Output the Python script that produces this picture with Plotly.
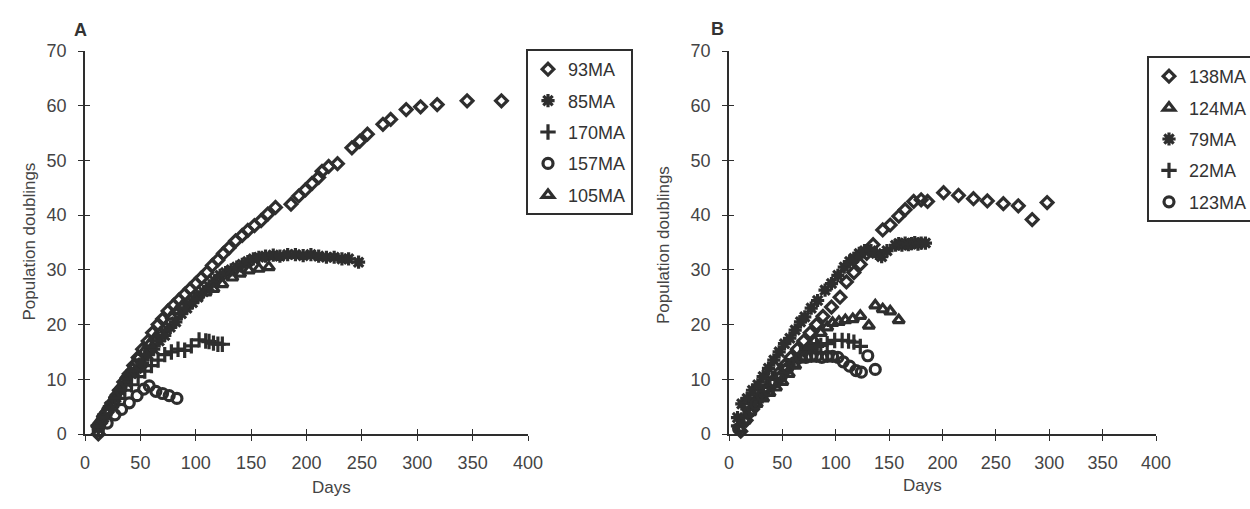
import plotly.graph_objects as go

# ---------------- Panel A data ----------------
a93_days = [12, 14, 20, 26, 31, 35, 40, 44, 48, 52, 57, 61, 66, 70, 75, 80, 85, 90, 95, 100, 105, 110, 115, 120,
            125, 130, 136, 142, 147, 153, 159, 165, 172, 186, 193, 199, 205, 211, 214, 220, 228, 241, 248, 255,
            269, 276, 290, 303, 318, 345, 376]
a93_vals = [0, 2, 4, 6, 8, 9.5, 11, 12.5, 14, 15.5, 17, 18.5, 20, 21, 22.5, 23.5, 24.5, 25.5, 26.5, 27.5, 28.5,
            29.5, 30.8, 31.8, 33, 34, 35.3, 36.3, 37.2, 38.1, 39, 40.2, 41.4, 42, 43.5, 44.6, 45.8, 46.9, 48, 48.9,
            49.4, 52.3, 53.5, 54.8, 56.6, 57.5, 59.3, 59.8, 60.2, 60.9, 60.9]

a85_days = [12, 17, 22, 27, 32, 37, 42, 47, 52, 57, 62, 67, 72, 77, 82, 87, 92, 97, 102, 107, 112, 117, 122, 127,
            132, 137, 142, 147, 152, 157, 163, 170, 176, 183, 190, 197, 204, 211, 218, 225, 232, 238, 247]
a85_vals = [1, 3, 5, 6.5, 8, 9.5, 11, 12, 13, 14.5, 15.5, 17, 18, 19.5, 20.5, 22, 23, 24, 25, 26, 27, 28, 29,
            29.5, 30, 30.5, 31, 31.5, 32, 32.3, 32.5, 32.7, 32.5, 32.8, 32.8, 32.6, 32.8, 32.5, 32.3, 32.3, 32,
            32, 31.4]

a170_days = [12, 18, 24, 30, 36, 42, 48, 54, 60, 66, 72, 78, 84, 90, 96, 103, 109, 112, 116, 120, 124]
a170_vals = [1.5, 3.5, 5, 6.5, 8, 9, 10.5, 11.5, 12.5, 13.5, 14.5, 15, 15.5, 15.3, 16.1, 17.2, 17, 16.9, 16.6,
             16.4, 16.4]

a157_days = [12, 20, 27, 33, 40, 47, 53, 58, 64, 70, 76, 83]
a157_vals = [0.5, 2, 3.5, 4.5, 5.7, 7, 8.2, 8.8, 7.8, 7.4, 7, 6.5]

a105_days = [11, 16, 21, 27, 32, 37, 43, 48, 53, 58, 63, 68, 73, 78, 83, 88, 95, 101, 109, 116, 124, 133, 140,
             148, 157, 166]
a105_vals = [1.8, 3.5, 5, 7, 8.5, 10.5, 12, 14, 15, 16.4, 17.5, 18.5, 19.5, 21.5, 22.5, 23.5, 24.5, 25, 25.9,
             26.5, 27.4, 28.6, 29.3, 29.9, 30.2, 30.5]

# ---------------- Panel B data ----------------
b138_days = [11, 16, 22, 28, 34, 40, 46, 52, 58, 64, 70, 76, 82, 88, 96, 104, 110, 117, 123, 129, 135, 144, 151,
             159, 165, 173, 180, 186, 201, 215, 229, 242, 257, 271, 284, 298]
b138_vals = [0.5, 2.5, 4.5, 6.5, 8, 9.5, 11, 12.5, 14, 15.5, 17, 18.5, 20, 21.5, 23.2, 25, 27.8, 29.5, 31, 33,
             34.6, 37.3, 38.2, 39.8, 41, 42.5, 42.8, 42.5, 44.1, 43.6, 43, 42.6, 42.1, 41.7, 39.2, 42.3]

b124_days = [10, 15, 20, 26, 32, 38, 44, 50, 56, 62, 68, 74, 80, 86, 92, 97, 103, 109, 116, 123, 131, 137, 144,
             151, 159]
b124_vals = [1, 2.5, 4, 5.5, 6.5, 7.5, 8.5, 9.5, 11, 12.5, 14, 15.5, 17, 18.5, 19.5, 20.3, 20.5, 20.8, 21, 21.6,
             19.8, 23.5, 22.8, 22.4, 20.8]

b79_days = [8, 12, 17, 22, 27, 32, 37, 42, 47, 52, 57, 62, 67, 71, 77, 83, 90, 96, 102, 108, 113, 117, 122, 127,
            133, 138, 143, 148, 156, 159, 162, 165, 168, 171, 174, 177, 180, 184]
b79_vals = [3, 5.5, 6.5, 8, 9, 10.5, 12, 13.5, 15, 16.5, 17.5, 19, 20.5, 21.4, 23, 24.4, 26.3, 27.5, 29, 30.5,
            31.5, 32.1, 33, 33.5, 33.5, 33, 32.4, 33.5, 34.5, 34.8, 34.5, 34.9, 34.6, 34.8, 35, 34.7, 34.9, 34.9]

b22_days = [9, 14, 19, 25, 31, 37, 43, 49, 55, 61, 67, 72, 77, 82, 86, 92, 99, 106, 112, 117, 123]
b22_vals = [1.5, 3, 4.5, 6, 7, 8.5, 10, 11, 12.5, 13.5, 14.5, 15, 15.6, 16, 16.2, 16.5, 17.1, 17.1, 17, 16.8, 16]

b123_days = [9, 14, 19, 25, 31, 37, 43, 49, 55, 61, 67, 72, 77, 82, 87, 92, 97, 102, 107, 113, 119, 124, 130, 137]
b123_vals = [1, 2.5, 4, 5.5, 7, 8, 9.5, 10.5, 12, 13, 14, 14, 14.2, 14.2, 14, 14.2, 14.2, 14, 13.2, 12.4, 11.6,
             11.3, 14.3, 11.8]

x_ticks = [0, 50, 100, 150, 200, 250, 300, 350, 400]
y_ticks = [0, 10, 20, 30, 40, 50, 60, 70]

INK = "#2e2e2e"
FONT = "Liberation Sans, Arial, Helvetica, sans-serif"

fig = go.Figure()


def add(days, vals, name, symbol, size, xa, ya, legend):
    fig.add_trace(go.Scatter(
        x=days, y=vals, mode="markers", name=name,
        xaxis=xa, yaxis=ya, legend=legend, legendgroup=name,
        cliponaxis=False,
        marker=dict(symbol=symbol, size=size, color=INK,
                    line=dict(color=INK, width=3.2)),
    ))


add(a93_days, a93_vals, "93MA", "diamond-open", 9, "x", "y", "legend")
add(a85_days, a85_vals, "85MA", "asterisk-open", 11, "x", "y", "legend")
add(a170_days, a170_vals, "170MA", "cross-thin-open", 11, "x", "y", "legend")
add(a157_days, a157_vals, "157MA", "circle-open", 10, "x", "y", "legend")
add(a105_days, a105_vals, "105MA", "triangle-up-open", 10, "x", "y", "legend")

add(b138_days, b138_vals, "138MA", "diamond-open", 9, "x2", "y2", "legend2")
add(b124_days, b124_vals, "124MA", "triangle-up-open", 10, "x2", "y2", "legend2")
add(b79_days, b79_vals, "79MA", "asterisk-open", 11, "x2", "y2", "legend2")
add(b22_days, b22_vals, "22MA", "cross-thin-open", 11, "x2", "y2", "legend2")
add(b123_days, b123_vals, "123MA", "circle-open", 10, "x2", "y2", "legend2")

# helper traces for inward tick marks (crossing ticks)
for xa, ya in (("x3", "y3"), ("x4", "y4")):
    fig.add_trace(go.Scatter(x=[None], y=[None], xaxis=xa, yaxis=ya, showlegend=False,
                             hoverinfo="skip"))

W, H = 1250, 509
ydom = [(H - 434) / H, (H - 51) / H]
xdomA = [85 / W, 528 / W]
xdomB = [729 / W, 1156 / W]

tickfont = dict(family=FONT, size=18, color="#444")
xbase = dict(range=[0, 400], tickvals=x_ticks, showgrid=False, zeroline=False,
             showline=True, linecolor=INK, linewidth=1.5, ticks="outside", ticklen=5,
             tickwidth=1, tickcolor=INK, tickfont=tickfont, ticklabelstandoff=7)
ybase = dict(range=[0, 70], tickvals=y_ticks, showgrid=False, zeroline=False,
             showline=True, linecolor=INK, linewidth=1.5, ticks="outside", ticklen=5,
             tickwidth=1, tickcolor=INK, tickfont=tickfont, ticklabelstandoff=8)
xin = dict(range=[0, 400], tickvals=x_ticks, showgrid=False, zeroline=False, showline=False,
           ticks="inside", ticklen=5, tickwidth=1, tickcolor=INK, showticklabels=False)
yin = dict(range=[0, 70], tickvals=y_ticks, showgrid=False, zeroline=False, showline=False,
           ticks="inside", ticklen=5, tickwidth=1, tickcolor=INK, showticklabels=False)

legbase = dict(font=dict(family=FONT, size=18, color="#333"), bgcolor="white",
               bordercolor=INK, borderwidth=2, tracegroupgap=5,
               xanchor="left", yanchor="top", itemsizing="trace")

fig.update_layout(
    width=W, height=H,
    margin=dict(l=0, r=0, t=0, b=0, autoexpand=False),
    paper_bgcolor="white", plot_bgcolor="white",
    font=dict(family=FONT, color="#333"),
    xaxis=dict(domain=xdomA, anchor="y", **xbase),
    yaxis=dict(domain=ydom, anchor="x", **ybase),
    xaxis2=dict(domain=xdomB, anchor="y2", **xbase),
    yaxis2=dict(domain=ydom, anchor="x2", **ybase),
    xaxis3=dict(overlaying="x", anchor="y", **xin),
    yaxis3=dict(overlaying="y", anchor="x", **yin),
    xaxis4=dict(overlaying="x2", anchor="y2", **xin),
    yaxis4=dict(overlaying="y2", anchor="x2", **yin),
    legend=dict(x=526 / W, y=1 - 49 / H, **legbase),
    legend2=dict(x=1147 / W, y=1 - 56 / H, **legbase),
    showlegend=True,
    annotations=[
        dict(text="<b>A</b>", x=72 / W, y=1 - 18 / H, xref="paper", yref="paper",
             showarrow=False, font=dict(family=FONT, size=18, color="#333")),
        dict(text="<b>B</b>", x=717 / W, y=1 - 17 / H, xref="paper", yref="paper",
             showarrow=False, font=dict(family=FONT, size=18, color="#333")),
        dict(text="Population doublings", x=18 / W, y=1 - 242 / H, xref="paper", yref="paper",
             textangle=-90, showarrow=False, font=dict(family=FONT, size=17, color="#444")),
        dict(text="Population doublings", x=663 / W, y=1 - 245 / H, xref="paper", yref="paper",
             textangle=-90, showarrow=False, font=dict(family=FONT, size=17, color="#444")),
        dict(text="Days", x=310 / W, y=1 - 499 / H, xref="paper", yref="paper",
             showarrow=False, font=dict(family=FONT, size=17, color="#444")),
        dict(text="Days", x=944 / W, y=1 - 497 / H, xref="paper", yref="paper",
             showarrow=False, font=dict(family=FONT, size=17, color="#444")),
    ],
)

fig.write_html("out.html")
